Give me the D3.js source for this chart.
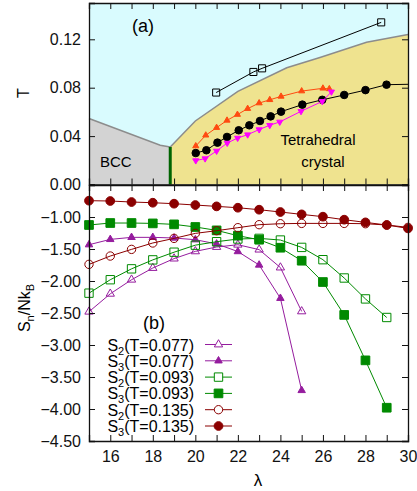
<!DOCTYPE html>
<html>
<head>
<meta charset="utf-8">
<script src="https://d3js.org/d3.v7.min.js"></script>
<style>
  body { margin: 0; background: #fff; }
  text { font-family: "Liberation Sans", Arial, sans-serif; }
</style>
</head>
<body>
<div id="chart"></div>
<script>
// ---- data: panel (a), phase diagram
var bccLam = [15, 18.35, 18.82];
var bccT = [0.0545, 0.0324, 0.031];
var fluidLam = [18.82, 20, 22, 24.3, 25.86, 28.05, 30];
var fluidT = [0.031, 0.0525, 0.077, 0.0965, 0.105, 0.1176, 0.124];

var sqLam = [20.98, 22.73, 23.14, 28.74];
var sqT = [0.076, 0.093, 0.096, 0.134];

var circLam = [20.02, 20.52, 21.04, 21.49, 22.04, 22.54, 23.04, 23.54, 24.03, 25.03, 25.97, 27.0, 28.0, 28.99];
var circT = [0.026, 0.0283, 0.0346, 0.0393, 0.0448, 0.0489, 0.0525, 0.0563, 0.0602, 0.066, 0.070, 0.074, 0.078, 0.0825];
var circTailLam = [28.99, 30];
var circTailT = [0.0825, 0.0828];

var upLam = [20.02, 20.49, 21.0, 21.49, 21.98, 22.46, 23.0, 23.5, 24.03, 25.0, 26.0, 26.3];
var upT = [0.0318, 0.0407, 0.047, 0.053, 0.0578, 0.0627, 0.0673, 0.070, 0.0728, 0.0772, 0.0795, 0.079];

var downLam = [20.02, 20.46, 21.0, 21.5, 21.99, 22.46, 23.0, 23.5, 23.97, 24.97, 25.97, 26.4];
var downT = [0.0198, 0.0214, 0.0277, 0.0343, 0.0384, 0.0412, 0.0454, 0.049, 0.0517, 0.0605, 0.0687, 0.0766];

// ---- data: panel (b), entropies
var lamA = [15, 16, 17, 18, 19, 20, 21, 22, 23, 24, 25];
var s2_077 = [-2.48, -2.2, -1.98, -1.797, -1.65, -1.537, -1.469, -1.433, -1.51, -1.79, -2.475];
var s3_077 = [-1.433, -1.35, -1.318, -1.318, -1.328, -1.355, -1.42, -1.54, -1.75, -2.27, -3.71];

var lamB = [15, 16, 17, 18, 19, 20, 21, 22, 23, 24, 25, 26, 27, 28, 29];
var s2_093 = [-2.19, -1.98, -1.81, -1.67, -1.55, -1.44, -1.386, -1.344, -1.334, -1.36, -1.475, -1.667, -1.953, -2.28, -2.57];
var s3_093 = [-1.125, -1.094, -1.094, -1.1, -1.115, -1.156, -1.209, -1.292, -1.355, -1.48, -1.683, -2.016, -2.53, -3.24, -3.98];

var lamC = [15, 16, 17, 18, 19, 20, 21, 22, 23, 24, 25, 26, 27, 28, 29, 30];
var s2_135 = [-1.74, -1.61, -1.506, -1.406, -1.334, -1.256, -1.214, -1.167, -1.12, -1.105, -1.1, -1.1, -1.1, -1.105, -1.125, -1.162];
var s3_135 = [-0.745, -0.75, -0.766, -0.777, -0.792, -0.813, -0.834, -0.855, -0.886, -0.922, -0.959, -0.995, -1.042, -1.084, -1.125, -1.178];

var tTicks = [0, 0.04, 0.08, 0.12];
var sTicks = [-4.5, -4.0, -3.5, -3.0, -2.5, -2.0, -1.5, -1.0];
var lamTicks = d3.range(15, 31);
var lamLabels = [16, 18, 20, 22, 24, 26, 28, 30];

var purple = "#951c9e", green = "#008a00", dred = "#8b0000";

var W = 417, H = 491;
var svg = d3.select("#chart").append("svg").attr("width", W).attr("height", H);

var x = d3.scaleLinear().domain([15, 30]).range([89, 408]);
var yT = d3.scaleLinear().domain([0, 0.15]).range([184.5, 3]);
var yS = d3.scaleLinear().domain([-4.5, -0.5]).range([441, 185]);

function zip(a, b) { return a.map(function(v, i) { return [v, b[i]]; }); }

// ---------------- panel (a)
var gTop = svg.append("g");
gTop.append("rect").attr("x", x(15)).attr("y", yT(0.15))
  .attr("width", x(30) - x(15)).attr("height", yT(0) - yT(0.15)).attr("fill", "#d9fbfe");

var area = d3.area().x(function(d) { return x(d[0]); }).y0(yT(0)).y1(function(d) { return yT(d[1]); });
gTop.append("path").datum(zip(bccLam, bccT)).attr("d", area).attr("fill", "#d3d3d3");
gTop.append("path").datum(zip(fluidLam, fluidT)).attr("d", area).attr("fill", "#efe38f");

var lineT = d3.line().x(function(d) { return x(d[0]); }).y(function(d) { return yT(d[1]); });
gTop.append("path").datum(zip(bccLam, bccT)).attr("d", lineT).attr("fill", "none").attr("stroke", "#8c8c8c").attr("stroke-width", 1.5);
gTop.append("path").datum(zip(fluidLam, fluidT)).attr("d", lineT).attr("fill", "none").attr("stroke", "#8c8c8c").attr("stroke-width", 1.5);
gTop.append("line").attr("x1", x(bccLam[2])).attr("x2", x(bccLam[2]))
  .attr("y1", yT(0)).attr("y2", yT(bccT[2])).attr("stroke", "#006400").attr("stroke-width", 3);

function series(g, xs, ys, yScale, color, shape, size, filled, rot) {
  var pts = zip(xs, ys);
  var ln = d3.line().x(function(d) { return x(d[0]); }).y(function(d) { return yScale(d[1]); });
  g.append("path").datum(pts).attr("d", ln).attr("fill", "none").attr("stroke", color).attr("stroke-width", 1);
  g.selectAll(null).data(pts).enter().append("path")
    .attr("d", d3.symbol().type(shape).size(size))
    .attr("transform", function(d) { return "translate(" + x(d[0]) + "," + yScale(d[1]) + ")" + (rot ? " rotate(180)" : ""); })
    .attr("fill", filled ? color : "none")
    .attr("stroke", color).attr("stroke-width", 1);
}

series(gTop, sqLam, sqT, yT, "#000", d3.symbolSquare, 50, false);
gTop.append("path").datum(zip(circTailLam, circTailT)).attr("d", lineT).attr("fill", "none").attr("stroke", "#000");
series(gTop, circLam, circT, yT, "#000", d3.symbolCircle, 45, true);
series(gTop, upLam, upT, yT, "#ff4a10", d3.symbolTriangle, 16, true);
series(gTop, downLam, downT, yT, "#ff00ff", d3.symbolTriangle, 16, true, true);

gTop.append("text").attr("x", 132).attr("y", 32).attr("font-size", 18).text("(a)");
gTop.append("text").attr("x", 100).attr("y", 167).attr("font-size", 15).text("BCC");
gTop.append("text").attr("x", 318).attr("y", 145).attr("text-anchor", "middle").attr("font-size", 15).text("Tetrahedral");
gTop.append("text").attr("x", 323).attr("y", 167).attr("text-anchor", "middle").attr("font-size", 15).text("crystal");

// axes panel (a)
gTop.append("g").attr("transform", "translate(" + x(15) + ",0)")
  .call(d3.axisLeft(yT).tickValues(tTicks).tickSize(-6).tickPadding(8).tickFormat(d3.format(".2f")));
gTop.append("g").attr("transform", "translate(" + x(30) + ",0)")
  .call(d3.axisRight(yT).tickValues(tTicks.slice(1)).tickSize(-6).tickFormat(""));
gTop.append("g").attr("transform", "translate(0," + yT(0) + ")")
  .call(d3.axisBottom(x).tickValues(lamTicks).tickSize(-6).tickFormat(""));
gTop.append("g").attr("transform", "translate(0," + yT(0.15) + ")")
  .call(d3.axisTop(x).tickValues(lamTicks).tickSize(-6).tickFormat(""));
gTop.append("text").attr("transform", "translate(29,93) rotate(-90)").attr("text-anchor", "middle")
  .attr("font-size", 16).text("T");

// ---------------- panel (b)
var gBot = svg.append("g");
series(gBot, lamA, s2_077, yS, purple, d3.symbolTriangle, 30, false);
series(gBot, lamA, s3_077, yS, purple, d3.symbolTriangle, 24, true);
series(gBot, lamB, s2_093, yS, green, d3.symbolSquare, 70, false);
series(gBot, lamB, s3_093, yS, green, d3.symbolSquare, 75, true);
series(gBot, lamC, s2_135, yS, dred, d3.symbolCircle, 55, false);
series(gBot, lamC, s3_135, yS, dred, d3.symbolCircle, 60, true);

gBot.append("g").attr("transform", "translate(" + x(15) + ",0)")
  .call(d3.axisLeft(yS).tickValues(sTicks).tickSize(-6).tickPadding(8).tickFormat(d3.format(".2f")));
gBot.append("g").attr("transform", "translate(" + x(30) + ",0)")
  .call(d3.axisRight(yS).tickValues(sTicks).tickSize(-6).tickFormat(""));
gBot.append("g").attr("transform", "translate(0," + yS(-4.5) + ")")
  .call(d3.axisBottom(x).tickValues(lamTicks).tickSize(-6).tickPadding(10)
    .tickFormat(function(d) { return lamLabels.indexOf(d) >= 0 ? d : ""; }));
gBot.append("g").attr("transform", "translate(0," + yS(-0.5) + ")")
  .call(d3.axisTop(x).tickValues(lamTicks).tickSize(-6).tickFormat(""));

svg.selectAll(".domain").attr("stroke", "#111").attr("stroke-width", 1.3);
svg.selectAll(".tick line").attr("stroke", "#111");
svg.selectAll(".tick text").attr("font-size", 16).attr("fill", "#111")
  .attr("font-family", "'Liberation Sans', Arial, sans-serif");

gBot.append("text").attr("x", 258).attr("y", 486).attr("text-anchor", "middle").attr("font-size", 17).text("λ");
var yl = gBot.append("text").attr("transform", "translate(30,308) rotate(-90)").attr("text-anchor", "middle").attr("font-size", 16);
yl.append("tspan").text("S");
yl.append("tspan").attr("font-size", 11).attr("dy", 4).text("n");
yl.append("tspan").attr("dy", -4).text("/Nk");
yl.append("tspan").attr("font-size", 11).attr("dy", 4).text("B");

gBot.append("text").attr("x", 143).attr("y", 329).attr("font-size", 18).text("(b)");

// legend
var legNames = [["2", "0.077"], ["3", "0.077"], ["2", "0.093"], ["3", "0.093"], ["2", "0.135"], ["3", "0.135"]];
var legColors = [purple, purple, green, green, dred, dred];
var legShapes = [d3.symbolTriangle, d3.symbolTriangle, d3.symbolSquare, d3.symbolSquare, d3.symbolCircle, d3.symbolCircle];
var legSizes = [30, 24, 70, 75, 55, 60];
legNames.forEach(function(n, i) {
  var yy = 344.5 + i * 16.3;
  var t = gBot.append("text").attr("x", 194).attr("y", yy + 6).attr("text-anchor", "end").attr("font-size", 16);
  t.append("tspan").text("S");
  t.append("tspan").attr("font-size", 11).attr("dy", 4).text(n[0]);
  t.append("tspan").attr("dy", -4).text("(T=" + n[1] + ")");
  gBot.append("line").attr("x1", 205).attr("x2", 232).attr("y1", yy).attr("y2", yy)
    .attr("stroke", legColors[i]).attr("stroke-width", 1);
  gBot.append("path").attr("d", d3.symbol().type(legShapes[i]).size(legSizes[i]))
    .attr("transform", "translate(218.5," + yy + ")")
    .attr("fill", i % 2 ? legColors[i] : "#fff").attr("stroke", legColors[i]);
});
</script>
</body>
</html>
